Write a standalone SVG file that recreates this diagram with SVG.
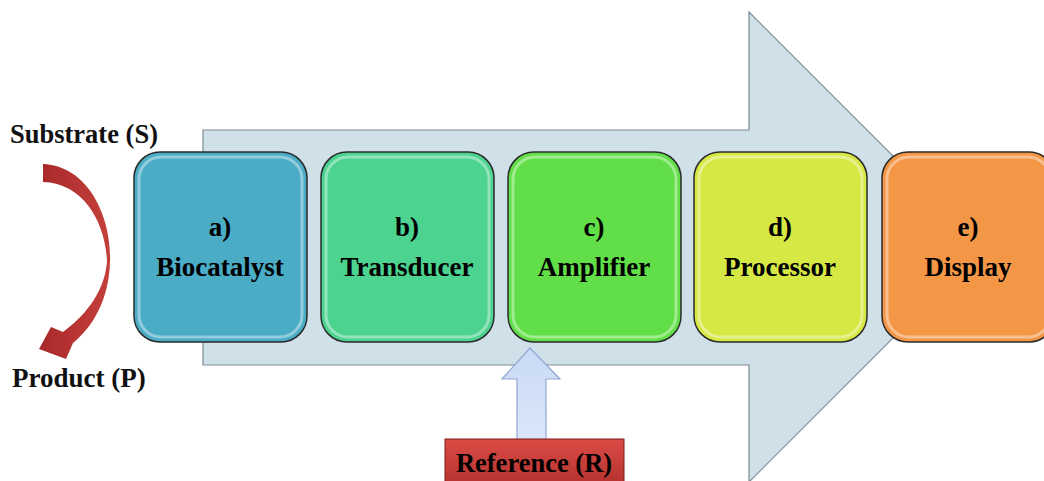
<svg xmlns="http://www.w3.org/2000/svg" width="1044" height="481" viewBox="0 0 1044 481">
<defs>
<style>
.lbl{font-family:"Liberation Serif","Times New Roman",serif;font-weight:bold;font-size:27px;fill:#000;text-anchor:middle}
.side{font-family:"Liberation Serif","Times New Roman",serif;font-weight:bold;font-size:26.5px;fill:#111}
.box{stroke:#2a2a2a;stroke-width:1.5}
.hl{fill:none;stroke:#ffffff;stroke-opacity:0.4;stroke-width:3}
</style>
<linearGradient id="refg" x1="0" y1="0" x2="0" y2="1">
<stop offset="0" stop-color="#DC4B45"/>
<stop offset="1" stop-color="#B0302C"/>
</linearGradient>
<linearGradient id="upg" x1="0" y1="0" x2="0" y2="1">
<stop offset="0" stop-color="#C9D9F4"/>
<stop offset="1" stop-color="#DCE7FA"/>
</linearGradient>
<linearGradient id="redg" x1="0" y1="0" x2="1" y2="0">
<stop offset="0" stop-color="#A8282A"/>
<stop offset="1" stop-color="#C4403B"/>
</linearGradient>
</defs>

<g id="bigArrow">
<polygon points="203,130 749,130 749,12 984,247 749,482 749,365 203,365" fill="#D0E0E9" stroke="#7E8C96" stroke-width="1.2"/>
</g>

<g id="connectors">
<path id="reactionArrow" d="M43,164 C90,166 112,220 110,262 C109,298 94,326 73,343 L66,359 L39,349 L51,327 L63,332 C82,318 104,295 107,262 C106,225 85,183 43,182 Z" fill="url(#redg)"/>
<path id="refArrow" d="M530,348 L560,379 L546,379 L546,442 L517,442 L517,379 L502,379 Z" fill="url(#upg)" stroke="#8FA8D6" stroke-width="1.2"/>
</g>

<g id="substrate"><text class="side" x="10" y="143">Substrate (S)</text></g>
<g id="product"><text class="side" x="12" y="387" style="font-size:27px">Product (P)</text></g>

<g id="biocatalyst">
<rect class="box" x="134" y="152" width="173" height="190" rx="26" fill="#4BACC6"/>
<rect class="hl" x="139" y="157" width="163" height="180" rx="22"/>
<text class="lbl" x="220" y="236">a)</text>
<text class="lbl" x="220" y="276">Biocatalyst</text>
</g>

<g id="transducer">
<rect class="box" x="321" y="152" width="173" height="190" rx="26" fill="#4BD38F"/>
<rect class="hl" x="326" y="157" width="163" height="180" rx="22"/>
<text class="lbl" x="407" y="236">b)</text>
<text class="lbl" x="407" y="276">Transducer</text>
</g>

<g id="amplifier">
<rect class="box" x="508" y="152" width="173" height="190" rx="26" fill="#62DF48"/>
<rect class="hl" x="513" y="157" width="163" height="180" rx="22"/>
<text class="lbl" x="594" y="236">c)</text>
<text class="lbl" x="594" y="276">Amplifier</text>
</g>

<g id="processor">
<rect class="box" x="694" y="152" width="173" height="190" rx="26" fill="#D6E844"/>
<rect class="hl" x="699" y="157" width="163" height="180" rx="22"/>
<text class="lbl" x="780" y="236">d)</text>
<text class="lbl" x="780" y="276">Processor</text>
</g>

<g id="display">
<rect class="box" x="882" y="152" width="173" height="190" rx="26" fill="#F39646"/>
<rect class="hl" x="887" y="157" width="163" height="180" rx="22"/>
<text class="lbl" x="968" y="236">e)</text>
<text class="lbl" x="968" y="276">Display</text>
</g>

<g id="reference">
<rect x="445" y="439" width="179" height="50" fill="url(#refg)" stroke="#7A1C1A" stroke-width="1"/>
<text class="lbl" x="534" y="472" style="font-size:26.5px">Reference (R)</text>
</g>
</svg>
